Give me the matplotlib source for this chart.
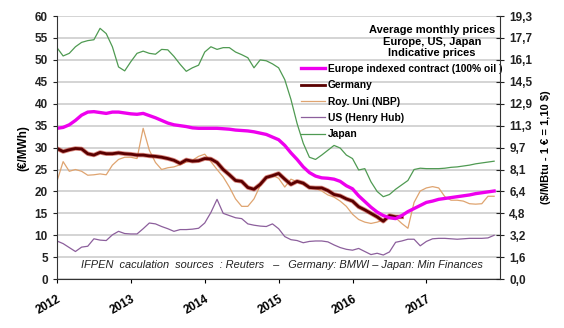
import matplotlib.pyplot as plt

plt.rcParams['font.family'] = ['Liberation Sans', 'DejaVu Sans']

# monthly values, Jan 2012 onwards (EUR/MWh)
europe = [34.4, 34.6, 35.2, 36.2, 37.4, 38.1, 38.2, 38.0, 37.8, 38.1, 38.1, 37.9,
          37.7, 37.6, 37.8, 37.3, 36.8, 36.2, 35.6, 35.2, 35.0, 34.8, 34.5, 34.4,
          34.4, 34.4, 34.4, 34.3, 34.2, 34.0, 33.9, 33.8, 33.6, 33.3, 33.0, 32.4,
          31.8, 30.5, 28.8, 27.3, 25.6, 24.3, 23.5, 23.1, 23.0, 22.8, 22.3, 21.3,
          20.6, 19.0, 17.7, 16.4, 15.3, 14.5, 14.0, 13.8, 14.5, 15.4, 16.1, 16.8,
          17.5, 17.8, 18.2, 18.4, 18.6, 18.8, 19.0, 19.2, 19.5, 19.7, 19.9, 20.1]
germany = [29.8, 29.1, 29.5, 29.8, 29.7, 28.6, 28.3, 28.9, 28.6, 28.6, 28.8, 28.6,
           28.5, 28.3, 28.3, 28.1, 28.0, 27.8, 27.5, 27.1, 26.4, 27.2, 26.9, 27.0,
           27.5, 27.4, 26.6, 25.0, 23.8, 22.5, 22.3, 20.9, 20.5, 21.6, 23.2, 23.6,
           24.1, 22.8, 21.6, 22.3, 21.9, 20.9, 20.8, 20.8, 20.2, 19.3, 19.0, 18.3,
           17.8, 16.5, 15.8, 15.0, 14.2, 13.2, 14.5, 14.2, 14.2]
roy_uni = [22.3, 26.8, 24.6, 25.0, 24.6, 23.7, 23.8, 24.0, 23.8, 26.0, 27.3, 27.8,
           27.8, 27.5, 34.4, 29.4, 26.6, 25.0, 25.4, 25.6, 26.1, 26.7, 27.1, 28.0,
           28.5, 26.8, 25.0, 23.3, 21.0, 18.3, 16.6, 16.6, 18.3, 21.3, 23.2, 23.7,
           23.0, 21.0, 22.8, 22.2, 21.6, 20.9, 20.7, 20.1, 19.2, 18.7, 17.8, 16.6,
           14.8, 13.6, 13.0, 12.7, 13.0, 13.5, 14.5, 14.0, 12.7, 11.6, 17.5, 20.1,
           20.8, 21.1, 20.8, 18.8, 18.0, 18.0, 17.8, 17.2, 17.1, 17.2, 18.9, 18.9]
us_hh = [8.7, 8.1, 7.2, 6.3, 7.3, 7.5, 9.2, 8.9, 8.8, 10.1, 10.9, 10.4,
         10.3, 10.3, 11.5, 12.8, 12.6, 12.0, 11.5, 10.9, 11.3, 11.3, 11.4, 11.6,
         12.8, 15.2, 18.2, 15.0, 14.5, 14.0, 13.8, 12.6, 12.3, 12.1, 12.0, 12.6,
         11.5, 9.7, 9.0, 8.8, 8.3, 8.6, 8.7, 8.7, 8.5, 7.8, 7.2, 6.8,
         6.6, 7.0, 6.3, 5.6, 5.9, 5.5, 6.2, 8.4, 8.7, 9.1, 9.1, 7.6,
         8.6, 9.2, 9.3, 9.3, 9.2, 9.1, 9.2, 9.3, 9.3, 9.3, 9.4, 10.0]
japan = [52.8, 50.9, 51.5, 53.0, 54.0, 54.4, 54.6, 57.2, 56.0, 53.0, 48.4, 47.5,
         49.6, 51.5, 52.0, 51.5, 51.3, 52.4, 52.3, 50.8, 49.0, 47.4, 48.2, 48.8,
         51.8, 53.0, 52.4, 52.8, 52.8, 51.8, 51.2, 50.5, 48.2, 50.0, 49.8, 49.1,
         48.2, 45.5, 41.0, 35.5, 31.0, 27.8, 27.3, 28.3, 29.4, 30.5, 29.9, 28.3,
         27.5, 24.9, 25.2, 22.2, 20.0, 18.8, 19.3, 20.5, 21.5, 22.5, 25.0, 25.3,
         25.2, 25.2, 25.2, 25.3, 25.5, 25.6, 25.8, 26.0, 26.3, 26.5, 26.7, 26.9]

years = [2012, 2013, 2014, 2015, 2016, 2017]
left_ticks = list(range(0, 61, 5))
right_labels = ['0,0', '1,6', '3,2', '4,8', '6,4', '8,1', '9,7',
                '11,3', '12,9', '14,5', '16,1', '17,7', '19,3']


def months(vals):
    return [2012 + i / 12 for i in range(len(vals))]


fig = plt.figure(figsize=(5.64, 3.28), dpi=100)
ax = fig.add_axes([0.101, 0.149, 0.786, 0.802])

ax.plot(months(japan), japan, color='#4f9a52', lw=0.9, label='Japan')
ax.plot(months(us_hh), us_hh, color='#8c5f9c', lw=0.9, label='US (Henry Hub)')
ax.plot(months(roy_uni), roy_uni, color='#dfa470', lw=0.9, label='Roy. Uni (NBP)')
ax.plot(months(germany), germany, color='#c0392b', lw=3.2, alpha=0.6)
ax.plot(months(germany), germany, color='#5a0000', lw=2.0, label='Germany')
ax.plot(months(europe), europe, color='#ee00ee', lw=2.4,
        label='Europe indexed contract (100% oil )')

ax.set_xlim(2012, 2018)
ax.set_ylim(0, 60)
ax.set_yticks(left_ticks)
ax.set_xticks(years)
ax.set_xticklabels([str(y) for y in years], rotation=30, ha='right',
                   rotation_mode='anchor', fontweight='bold', fontsize=8.5)
ax.tick_params(axis='x', length=3, pad=7)
ax.tick_params(axis='y', labelsize=8.5, length=3, colors='#222222')
for lbl in ax.get_yticklabels():
    lbl.set_fontweight('bold')
ax.grid(axis='y', color='#d4d4d4', lw=1.4)
ax.set_axisbelow(True)
ax.spines['top'].set_visible(False)
ax.spines['right'].set_visible(False)
ax.spines['left'].set_color('#333333')
ax.spines['bottom'].set_color('#333333')
ax.set_ylabel('(€/MWh)', fontweight='bold', fontsize=8.5, labelpad=4)

# right axis in $/MBtu
ax2 = ax.twinx()
ax2.set_ylim(0, 60)
ax2.set_yticks(left_ticks)
ax2.set_yticklabels(right_labels, fontweight='bold', fontsize=8.5)
ax2.tick_params(axis='y', direction='inout', length=6, colors='#222222')
ax2.spines['top'].set_visible(False)
ax2.spines['left'].set_visible(False)
ax2.spines['bottom'].set_visible(False)
ax2.spines['right'].set_color('#333333')
ax2.set_ylabel('(\\$/MBtu - 1 € = 1,10 \\$)', fontweight='bold', fontsize=8,
               labelpad=6)

# legend, reversed so Europe comes first
handles, labels = ax.get_legend_handles_labels()
leg = ax.legend(handles[::-1], labels[::-1], loc='upper left',
                bbox_to_anchor=(0.55, 0.818), frameon=False, handlelength=2.4,
                handletextpad=0.2, labelspacing=0.62, borderaxespad=0,
                borderpad=0, prop={'weight': 'bold', 'size': 7.4})

ax.text(0.846, 0.965, 'Average monthly prices\nEurope, US, Japan\nIndicative prices',
        transform=ax.transAxes, ha='center', va='top', fontweight='bold',
        fontsize=8, linespacing=1.2)

ax.text(0.055, 0.033,
        'IFPEN  caculation  sources  : Reuters   –   Germany: BMWI – Japan: Min Finances',
        transform=ax.transAxes, ha='left', va='bottom', style='italic',
        fontsize=7.9, color='#222222')

plt.savefig('out.png', dpi=100)
